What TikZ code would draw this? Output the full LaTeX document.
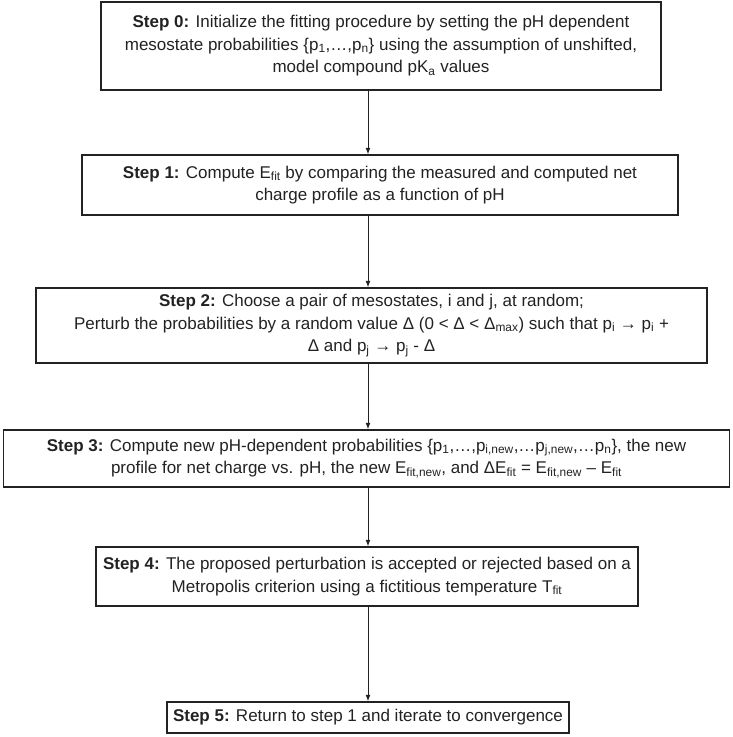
\documentclass[tikz,border=0pt]{standalone}
\usepackage{fontspec}
\setmainfont{Liberation Sans}
\usetikzlibrary{arrows.meta}
\newcommand{\lo}[1]{\textsubscript{#1}}
\definecolor{ink}{HTML}{222222}
\tikzset{
  stepbox/.style={draw=ink, line width=1.4pt, align=center, text=ink,
    inner sep=3pt, font=\fontsize{17}{22.5}\selectfont},
  flow/.style={->, draw=ink, line width=1pt}
}
\begin{document}
\begin{tikzpicture}[x=1pt,y=-1pt,>={Latex[length=6.5pt,width=5pt]}]
\useasboundingbox (0,0) rectangle (733,737);
\coordinate (ax) at (368,0);

\node[stepbox, minimum width=560pt, minimum height=88pt] (b0) at (381,46)
  {\textbf{Step 0:} Initialize the fitting procedure by setting the pH dependent\\
   mesostate probabilities \{p\lo{1},…,p\lo{n}\} using the assumption of unshifted,\\
   model compound pK\lo{a} values};
\node[stepbox, minimum width=596pt, minimum height=60pt] (b1) at (380,185)
  {\textbf{Step 1:} Compute E\lo{fit} by comparing the measured and computed net\\
   charge profile as a function of pH};
\node[stepbox, minimum width=671pt, minimum height=75pt] (b2) at (371.5,325.5)
  {\textbf{Step 2:} Choose a pair of mesostates, i and j, at random;\\
   Perturb the probabilities by a random value Δ (0 < Δ <  Δ\lo{max}) such that p\lo{i} → p\lo{i} +\\
   Δ and p\lo{j} → p\lo{j} - Δ};
\node[stepbox, minimum width=726pt, minimum height=57pt] (b3) at (366.5,458.5)
  {\textbf{Step 3:} Compute new pH-dependent probabilities \{p\lo{1},…,p\lo{i,new},…p\lo{j,new},…p\lo{n}\}, the new\\
   profile for net charge vs. pH, the new E\lo{fit,new}, and ΔE\lo{fit} = E\lo{fit,new} – E\lo{fit}};
\node[stepbox, minimum width=542pt, minimum height=59pt] (b4) at (367,576.5)
  {\textbf{Step 4:} The proposed perturbation is accepted or rejected based on a\\
   Metropolis criterion using a fictitious temperature T\lo{fit}};
\node[stepbox, minimum width=402pt, minimum height=31pt] (b5) at (368,717.5)
  {\textbf{Step 5:} Return to step 1 and iterate to convergence};

\draw[flow] (b0.south -| ax) -- (b1.north -| ax);
\draw[flow] (b1.south -| ax) -- (b2.north -| ax);
\draw[flow] (b2.south -| ax) -- (b3.north -| ax);
\draw[flow] (b3.south -| ax) -- (b4.north -| ax);
\draw[flow] (b4.south -| ax) -- (b5.north -| ax);
\end{tikzpicture}
\end{document}
